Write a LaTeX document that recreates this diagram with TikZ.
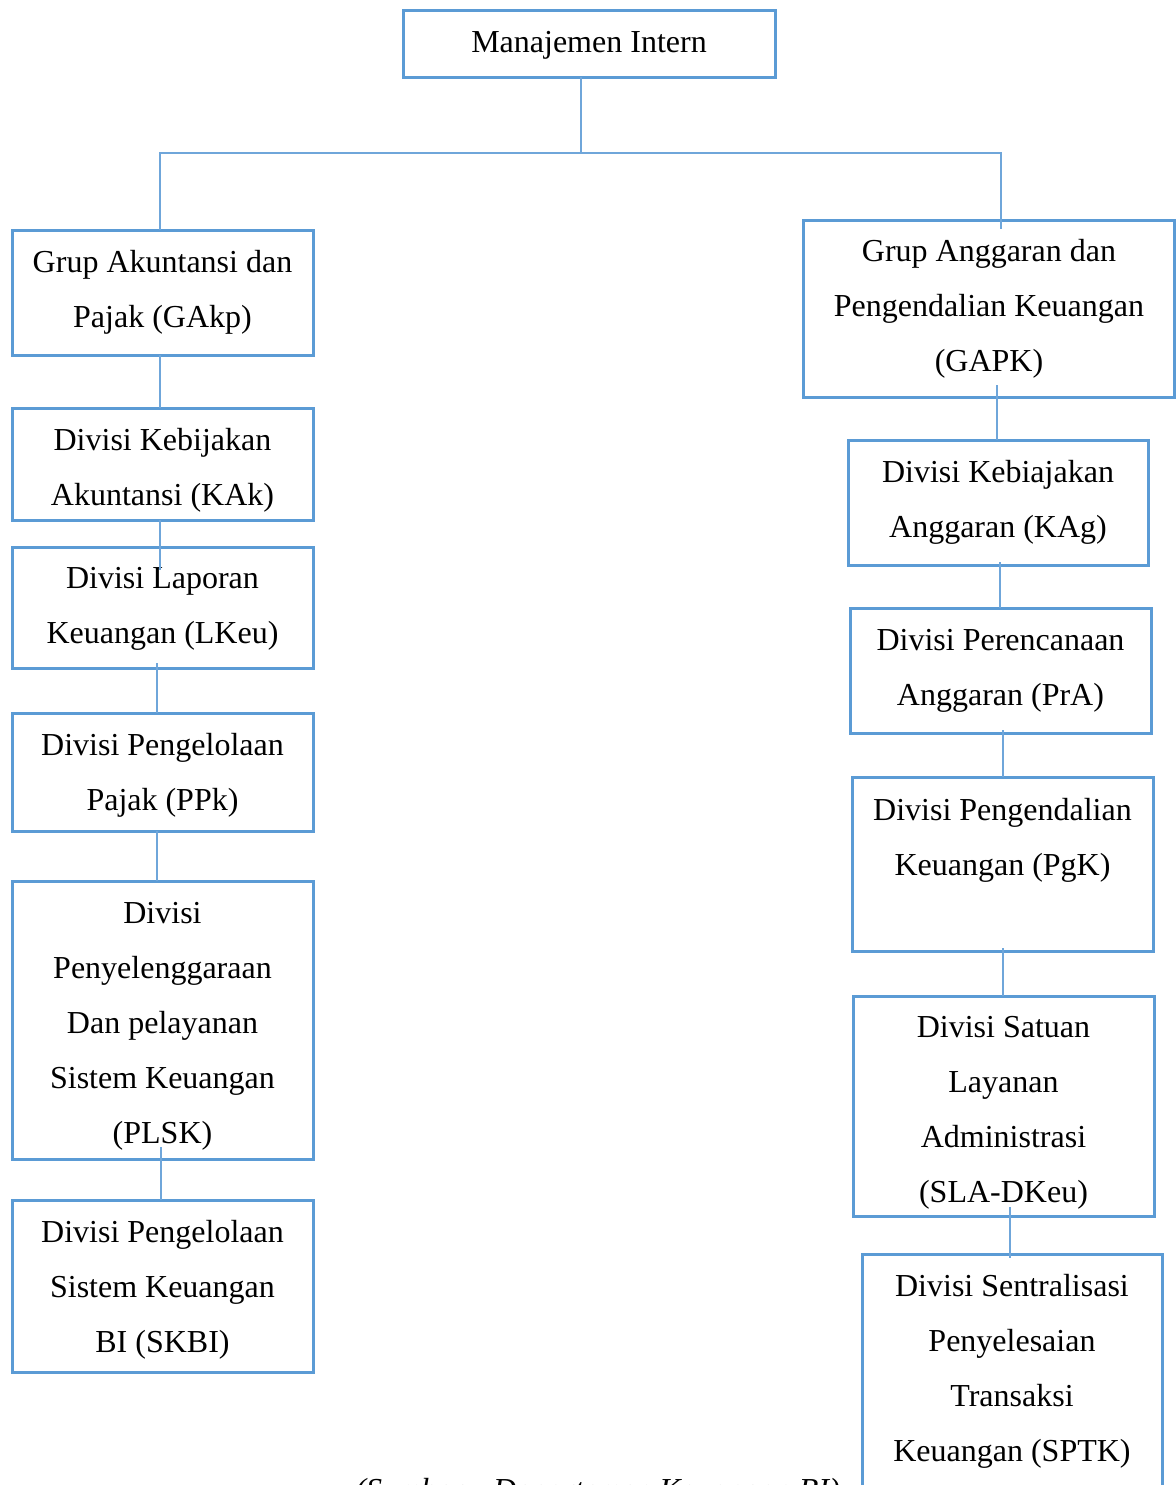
\documentclass[tikz,border=0pt]{standalone}
\usepackage{fontspec}
\setmainfont{Liberation Serif}
\definecolor{boxblue}{HTML}{5B9BD5}
\definecolor{lineblue}{HTML}{6FA6DA}
\tikzset{
  orgbox/.style={draw=boxblue, line width=1.5pt, rectangle, inner sep=0pt, outer sep=0pt},
  orgtext/.style={align=center, inner sep=0pt, font=\fontsize{16}{27.5}\selectfont, text=black},
  conn/.style={draw=lineblue, line width=0.75pt}
}
\newcommand{\orgbx}[5]{%
  \node[orgbox, minimum width={(#4-#2)*0.5pt}, minimum height={(#5-#3)*0.5pt}] (#1) at ({(#2+#4)/2},{(#3+#5)/2}) {};}
\begin{document}
\begin{tikzpicture}[x=0.5pt, y=-0.5pt]
\useasboundingbox (0,0) rectangle (1175,1485);
% boxes
\orgbx{Mgmt}{403}{10}{775}{77}
\orgbx{GAkp}{12}{230}{313}{355}
\orgbx{KAk}{12}{408}{313}{520}
\orgbx{LKeu}{12}{547}{313}{668}
\orgbx{PPk}{12}{713}{313}{831}
\orgbx{PLSK}{12}{881}{313}{1159}
\orgbx{SKBI}{12}{1200}{313}{1372}
\orgbx{GAPK}{803}{220}{1174}{397}
\orgbx{KAg}{848}{440}{1148}{565}
\orgbx{PrA}{850}{608}{1151}{733}
\orgbx{PgK}{852}{777}{1153}{951}
\orgbx{SLA}{853}{996}{1154}{1216}
\orgbx{SPTK}{862}{1254}{1162}{1560}
% texts
\node[orgtext] (tMgmt) at (589,45) {Manajemen Intern};
\node[orgtext] (tGAkp) at (162.5,292.5) {Grup Akuntansi dan\\Pajak (GAkp)};
\node[orgtext] (tKAk) at (162.5,470.5) {Divisi Kebijakan\\Akuntansi (KAk)};
\node[orgtext] (tLKeu) at (162.5,608.5) {Divisi Laporan\\Keuangan (LKeu)};
\node[orgtext] (tPPk) at (162.5,775.5) {Divisi Pengelolaan\\Pajak (PPk)};
\node[orgtext] (tPLSK) at (162.5,1026.5) {Divisi\\Penyelenggaraan\\Dan pelayanan\\Sistem Keuangan\\(PLSK)};
\node[orgtext] (tSKBI) at (162.5,1290) {Divisi Pengelolaan\\Sistem Keuangan\\BI (SKBI)};
\node[orgtext] (tGAPK) at (989,309) {Grup Anggaran dan\\Pengendalian Keuangan\\(GAPK)};
\node[orgtext] (tKAg) at (998,502.5) {Divisi Kebiajakan\\Anggaran (KAg)};
\node[orgtext] (tPrA) at (1000.5,670.5) {Divisi Perencanaan\\Anggaran (PrA)};
\node[orgtext] (tPgK) at (1002.5,840) {Divisi Pengendalian\\Keuangan (PgK)};
\node[orgtext] (tSLA) at (1003.5,1112.5) {Divisi Satuan\\Layanan\\Administrasi\\(SLA-DKeu)};
\node[orgtext] (tSPTK) at (1012,1371.5) {Divisi Sentralisasi\\Penyelesaian\\Transaksi\\Keuangan (SPTK)};
\node[anchor=base west, inner sep=0pt, font=\fontsize{16}{27.5}\selectfont\itshape] (cap) at (355,1500) {(Sumber : Departemen Keuangan BI)};
% connectors
\coordinate (j) at (581,153);
\draw[conn] (581,0 |- Mgmt.south) -- (j);
\draw[conn] (j) -| (160,0 |- GAkp.north);
\draw[conn, shorten >=-4.5pt] (j) -| (1001,0 |- GAPK.north);
\draw[conn] (160,0 |- GAkp.south) -- (160,0 |- KAk.north);
\draw[conn, shorten >=-11.5pt] (160,0 |- KAk.south) -- (160,0 |- LKeu.north);
\draw[conn, shorten <=-2.5pt] (157,0 |- LKeu.south) -- (157,0 |- PPk.north);
\draw[conn] (157,0 |- PPk.south) -- (157,0 |- PLSK.north);
\draw[conn, shorten <=-6pt] (161,0 |- PLSK.south) -- (161,0 |- SKBI.north);
\draw[conn, shorten <=-6pt] (997,0 |- GAPK.south) -- (997,0 |- KAg.north);
\draw[conn, shorten <=-1.5pt] (1000,0 |- KAg.south) -- (1000,0 |- PrA.north);
\draw[conn, shorten <=-1.5pt] (1003,0 |- PrA.south) -- (1003,0 |- PgK.north);
\draw[conn, shorten <=-1.5pt] (1003,0 |- PgK.south) -- (1003,0 |- SLA.north);
\draw[conn, shorten <=-4.5pt, shorten >=-2pt] (1010,0 |- SLA.south) -- (1010,0 |- SPTK.north);
\end{tikzpicture}
\end{document}
